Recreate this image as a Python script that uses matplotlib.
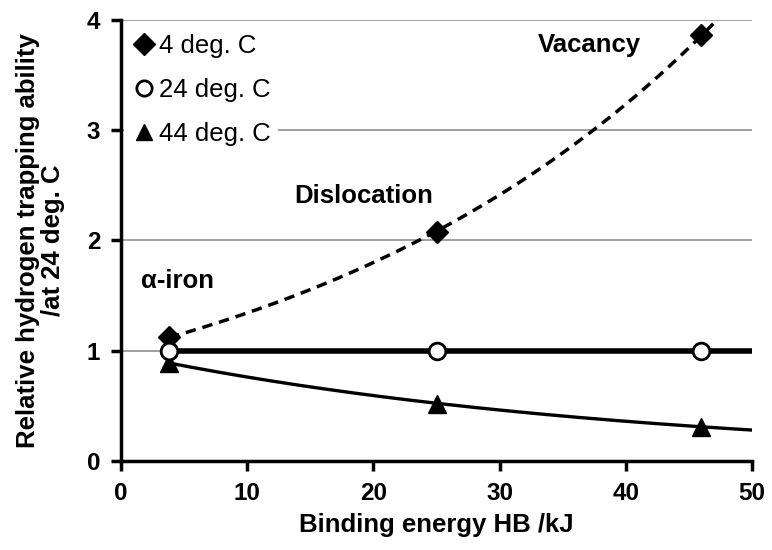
import numpy as np
import matplotlib.pyplot as plt

plt.rcParams['font.family'] = ['Liberation Sans', 'DejaVu Sans']
plt.rcParams['font.weight'] = 'bold'

# binding energy (kJ) of trap sites
energy = [3.8, 25, 46]
sites = ['\u03b1-iron', 'Dislocation', 'Vacancy']

# relative trapping ability at each temperature
t4 = [1.12, 2.08, 3.86]
t24 = [1.0, 1.0, 1.0]
t44 = [0.89, 0.52, 0.31]

fig, ax = plt.subplots(figsize=(7.72, 5.5), dpi=100)
fig.subplots_adjust(left=0.157, right=0.974, top=0.964, bottom=0.162)

# exponential trend lines fitted to the points
xs = np.linspace(energy[0], 50, 200)
b4, a4 = np.polyfit(energy, np.log(t4), 1)
b44, a44 = np.polyfit(energy, np.log(t44), 1)
ax.plot(xs, np.exp(a4 + b4 * xs), color='black', lw=2.5, ls=(0, (3, 2)), zorder=3)
ax.plot([energy[0], 50], [t24[0], t24[0]], color='black', lw=4, zorder=3)
ax.plot(xs, np.exp(a44 + b44 * xs), color='black', lw=2.4, zorder=3)

h1, = ax.plot(energy, t4, ls='none', marker='D', ms=11, color='black', zorder=4)
h2, = ax.plot(energy, t24, ls='none', marker='o', ms=12, mfc='white', mec='black', mew=2, zorder=5)
h3, = ax.plot(energy, t44, ls='none', marker='^', ms=13, color='black', zorder=4)

ax.set_xlim(0, 50)
ax.set_ylim(0, 4)
ax.set_xticks(range(0, 51, 10))
ax.set_yticks(range(0, 5))
ax.yaxis.grid(True, color='#999999', lw=1.3)
ax.set_axisbelow(True)
for s in ['top', 'right']:
    ax.spines[s].set_visible(False)
for s in ['left', 'bottom']:
    ax.spines[s].set_linewidth(2.5)
ax.tick_params(width=2.5, length=7, direction='out', labelsize=17.5, pad=8)

ax.set_xlabel('Binding energy HB /kJ', fontsize=18.5, fontweight='bold', labelpad=6)
ax.set_ylabel('Relative hydrogen trapping ability\n/at 24 deg. C', fontsize=18.5,
              fontweight='bold', linespacing=1.05, labelpad=16)

leg = ax.legend([h1, h2, h3], ['4 deg. C', '24 deg. C', '44 deg. C'], loc='upper left',
                frameon=True, fancybox=False, prop={'size': 18.5, 'weight': 'normal'},
                handletextpad=0.05, handlelength=1.0,
                labelspacing=0.78, borderaxespad=0.2, bbox_to_anchor=(-0.004, 0.997),
                borderpad=0.3)
leg.get_frame().set_edgecolor('none')
leg.get_frame().set_alpha(1)
leg.set_zorder(2)
for h in leg.legend_handles:
    h.set_markersize(11)

ax.text(4.44, 1.63, sites[0], fontsize=18.5, fontweight='bold', ha='center', va='center')
ax.text(19.25, 2.40, sites[1], fontsize=18.5, fontweight='bold', ha='center', va='center')
ax.text(37.1, 3.77, sites[2], fontsize=18.5, fontweight='bold', ha='center', va='center')

fig.savefig('out.png', dpi=100)
